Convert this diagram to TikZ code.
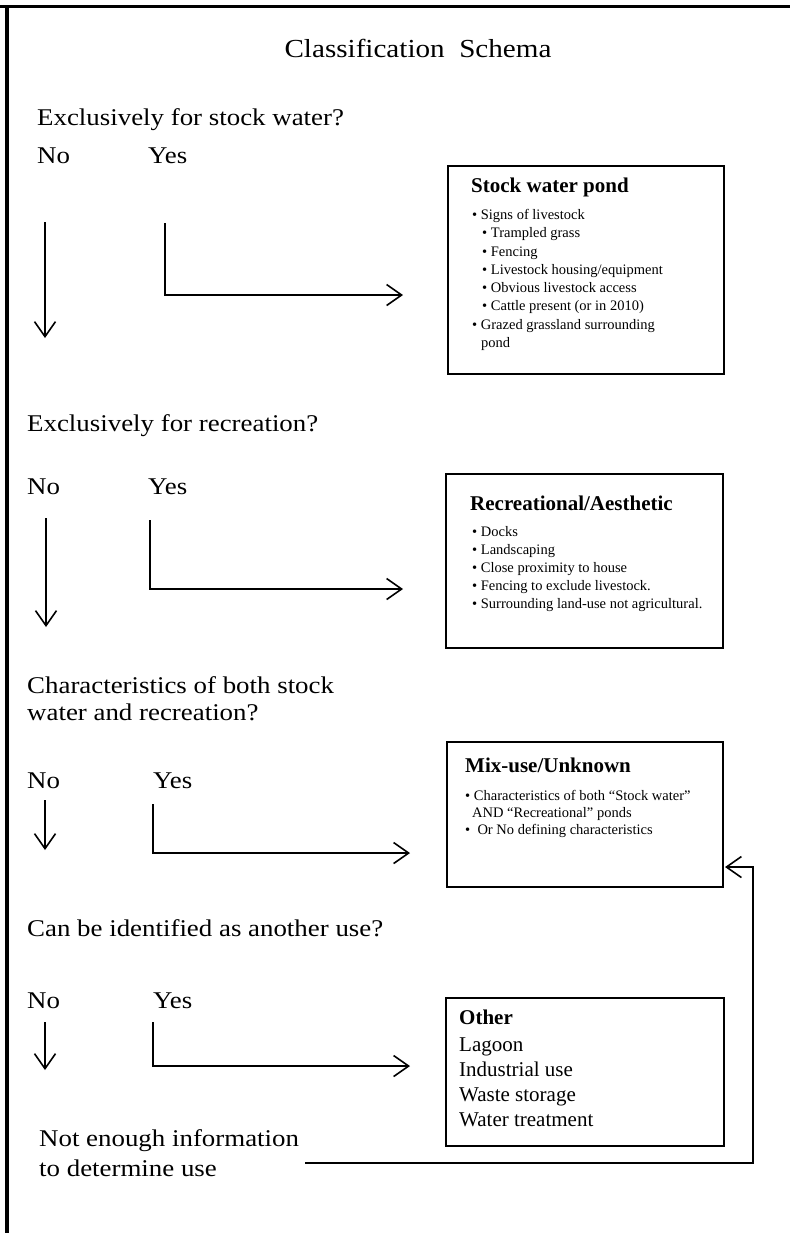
\documentclass[tikz,border=0pt]{standalone}
\usepackage{fontspec}
\setmainfont{Liberation Serif}
\newfontfamily\widefont[FakeStretch=1.12]{Liberation Serif}
\usetikzlibrary{arrows.meta,positioning}

\tikzset{
  flowarrow/.style={line width=1.6pt, -{Straight Barb[length=15pt,width=21pt]}},
  usebox/.style={draw, line width=2pt, rectangle, inner sep=0pt, anchor=north west},
  question/.style={font=\widefont\fontsize{24}{27}\selectfont, inner sep=0pt, align=left},
  boxhead/.style={font=\bfseries\fontsize{21}{24}\selectfont, anchor=base west, inner sep=0pt},
  boxlist/.style={font=\fontsize{14.5}{18.3}\selectfont, anchor=north west, inner sep=0pt, align=left},
}

\begin{document}
\begin{tikzpicture}[scale=0.35146]
		\useasboundingbox (0,0) rectangle (79,-123.3);
		% frame of the slide
		\draw [line width=3.3pt] (0,-0.65) -- (79,-0.65);
		\draw [line width=4pt] (0.7,-0.5) -- (0.7,-123.3);
		\node [question, font=\widefont\fontsize{26}{30}\selectfont] (title) at (41.8,-4.8) {Classification\ \ Schema};
		% stock water
		\node [question, anchor=base west] (q1) at (3.7,-12.5) {Exclusively for stock water?};
		\node [question, anchor=base west] (no1) at (3.7,-16.3) {No};
		\node [question, anchor=base west] (yes1) at (14.8,-16.3) {Yes};
		\node [usebox, minimum width=276pt, minimum height=208pt] (stock) at (44.7,-16.5) {};
		\node [boxhead] (stockhead) at (47.1,-19.2) {Stock water pond};
		\node [boxlist] (stocklist) at (47.2,-20.9) {• Signs of livestock\\
			\hspace*{10pt}• Trampled grass\\
			\hspace*{10pt}• Fencing\\
			\hspace*{10pt}• Livestock housing/equipment\\
			\hspace*{10pt}• Obvious livestock access\\
			\hspace*{10pt}• Cattle present (or in 2010)\\
			• Grazed grassland surrounding\\
			\hspace*{9pt}pond};
		\coordinate (no1top) at (4.5,-22.2);
		\coordinate (no1end) at (4.5,-33.8);
		\coordinate (yes1top) at (16.5,-22.3);
		\coordinate (stockin) at (40.3,-29.5);
		\draw [flowarrow] (no1top) -- (no1end);
		\draw [flowarrow] (yes1top) |- (stockin);
		% recreation
		\node [question, anchor=base west] (q2) at (2.7,-43.1) {Exclusively for recreation?};
		\node [question, anchor=base west] (no2) at (2.7,-49.4) {No};
		\node [question, anchor=base west] (yes2) at (14.8,-49.4) {Yes};
		\node [usebox, minimum width=277pt, minimum height=174pt] (recr) at (44.5,-47.3) {};
		\node [boxhead] (recrhead) at (47.0,-51.0) {Recreational/Aesthetic};
		\node [boxlist, font=\fontsize{14.5}{18}\selectfont] (recrlist) at (47.2,-52.6) {• Docks\\
			• Landscaping\\
			• Close proximity to house\\
			• Fencing to exclude livestock.\\
			• Surrounding land-use not agricultural.};
		\coordinate (no2top) at (4.6,-51.8);
		\coordinate (no2end) at (4.6,-62.7);
		\coordinate (yes2top) at (15.0,-52.0);
		\coordinate (recrin) at (40.3,-58.9);
		\draw [flowarrow] (no2top) -- (no2end);
		\draw [flowarrow] (yes2top) |- (recrin);
		% both uses
		\node [question, anchor=north west] (q3) at (2.7,-67.6) {Characteristics of both stock\\water and recreation?};
		\node [question, anchor=base west] (no3) at (2.7,-78.8) {No};
		\node [question, anchor=base west] (yes3) at (15.3,-78.8) {Yes};
		\node [usebox, minimum width=276pt, minimum height=145pt] (mixuse) at (44.6,-74.1) {};
		\node [boxhead] (mixhead) at (46.5,-77.2) {Mix-use/Unknown};
		\node [boxlist, font=\fontsize{14.5}{17}\selectfont] (mixlist) at (46.5,-79.0) {• Characteristics of both “Stock water”\\
			\hspace*{7pt}AND “Recreational” ponds\\
			•\ \ Or No defining characteristics};
		\coordinate (no3top) at (4.5,-80.0);
		\coordinate (no3end) at (4.5,-85.0);
		\coordinate (yes3top) at (15.3,-80.4);
		\coordinate (mixin) at (41.0,-85.3);
		\draw [flowarrow] (no3top) -- (no3end);
		\draw [flowarrow] (yes3top) |- (mixin);
		% other use
		\node [question, anchor=base west] (q4) at (2.7,-93.6) {Can be identified as another use?};
		\node [question, anchor=base west] (no4) at (2.7,-100.8) {No};
		\node [question, anchor=base west] (yes4) at (15.3,-100.8) {Yes};
		\node [usebox, minimum width=278pt, minimum height=148pt] (other) at (44.5,-99.7) {};
		\node [boxhead] (otherhead) at (45.9,-102.4) {Other};
		\node [boxlist, font=\fontsize{21}{25}\selectfont] (otherlist) at (45.9,-103.8) {Lagoon\\
			Industrial use\\
			Waste storage\\
			Water treatment};
		\coordinate (no4top) at (4.5,-102.2);
		\coordinate (no4end) at (4.5,-107.0);
		\coordinate (yes4top) at (15.3,-102.2);
		\coordinate (otherin) at (41.0,-106.6);
		\draw [flowarrow] (no4top) -- (no4end);
		\draw [flowarrow] (yes4top) |- (otherin);
		% no information
		\node [question, anchor=north west, font=\widefont\fontsize{24}{30}\selectfont] (noinfo) at (3.9,-112.9) {Not enough information\\to determine use};
		\coordinate (infoend) at (30.5,-116.3);
		\coordinate (backturn) at (75.3,-86.7);
		\coordinate (mixback) at (72.5,-86.7);
		\draw [flowarrow] (infoend) -| (backturn) -- (mixback);
	\end{tikzpicture}
\end{document}
